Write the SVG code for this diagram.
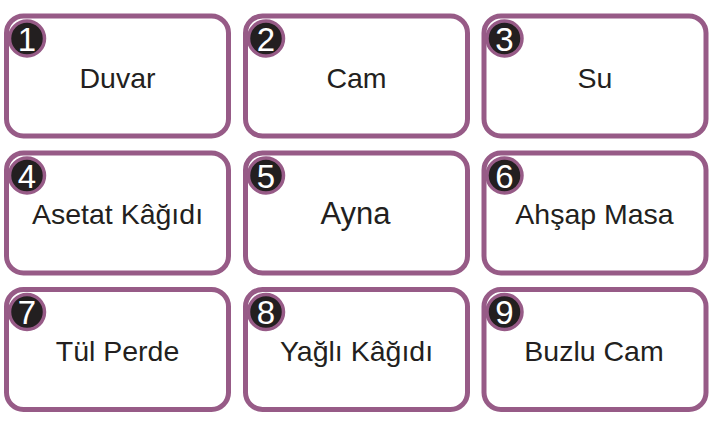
<svg xmlns="http://www.w3.org/2000/svg" width="718" height="421" viewBox="0 0 718 421">
<style>
.box{fill:#ffffff;stroke:#975b87;stroke-width:5}
.badge{fill:#231f20;stroke:#975b87;stroke-width:3.5}
.num{font-family:"Liberation Sans",Arial,sans-serif;font-size:33px;fill:#ffffff;text-anchor:middle}
.lbl{font-family:"Liberation Sans",Arial,sans-serif;font-size:28.5px;fill:#231f20;text-anchor:middle}
.big{font-size:31px}
</style>
<rect width="718" height="421" fill="#ffffff"/>
<g id="connectors"></g>
<g id="node1">
<rect class="box" x="6.5" y="16" width="222" height="120" rx="17"/>
<circle class="badge" cx="27" cy="38.5" r="17.5"/>
<text class="num" x="27" y="50.5">1</text>
<text class="lbl" x="117.5" y="88">Duvar</text>
</g>
<g id="node2">
<rect class="box" x="245.5" y="16" width="222" height="120" rx="17"/>
<circle class="badge" cx="266" cy="38.5" r="17.5"/>
<text class="num" x="266" y="50.5">2</text>
<text class="lbl" x="356.5" y="88">Cam</text>
</g>
<g id="node3">
<rect class="box" x="484" y="16" width="222" height="120" rx="17"/>
<circle class="badge" cx="504.5" cy="38.5" r="17.5"/>
<text class="num" x="504.5" y="50.5">3</text>
<text class="lbl" x="595" y="88">Su</text>
</g>
<g id="node4">
<rect class="box" x="6.5" y="153" width="222" height="120" rx="17"/>
<circle class="badge" cx="27" cy="175.5" r="17.5"/>
<text class="num" x="27" y="187.5">4</text>
<text class="lbl" x="117.5" y="224">Asetat Kâğıdı</text>
</g>
<g id="node5">
<rect class="box" x="245.5" y="153" width="222" height="120" rx="17"/>
<circle class="badge" cx="266" cy="175.5" r="17.5"/>
<text class="num" x="266" y="187.5">5</text>
<text class="lbl big" x="355.5" y="224">Ayna</text>
</g>
<g id="node6">
<rect class="box" x="484" y="153" width="222" height="120" rx="17"/>
<circle class="badge" cx="504.5" cy="175.5" r="17.5"/>
<text class="num" x="504.5" y="187.5">6</text>
<text class="lbl" x="594.5" y="224">Ahşap Masa</text>
</g>
<g id="node7">
<rect class="box" x="6.5" y="289.5" width="222" height="120" rx="17"/>
<circle class="badge" cx="27" cy="312" r="17.5"/>
<text class="num" x="27" y="324">7</text>
<text class="lbl" x="117.5" y="360.5">Tül Perde</text>
</g>
<g id="node8">
<rect class="box" x="245.5" y="289.5" width="222" height="120" rx="17"/>
<circle class="badge" cx="266" cy="312" r="17.5"/>
<text class="num" x="266" y="324">8</text>
<text class="lbl" x="356.5" y="360.5">Yağlı Kâğıdı</text>
</g>
<g id="node9">
<rect class="box" x="484" y="289.5" width="222" height="120" rx="17"/>
<circle class="badge" cx="504.5" cy="312" r="17.5"/>
<text class="num" x="504.5" y="324">9</text>
<text class="lbl" x="594" y="360.5">Buzlu Cam</text>
</g>
</svg>
